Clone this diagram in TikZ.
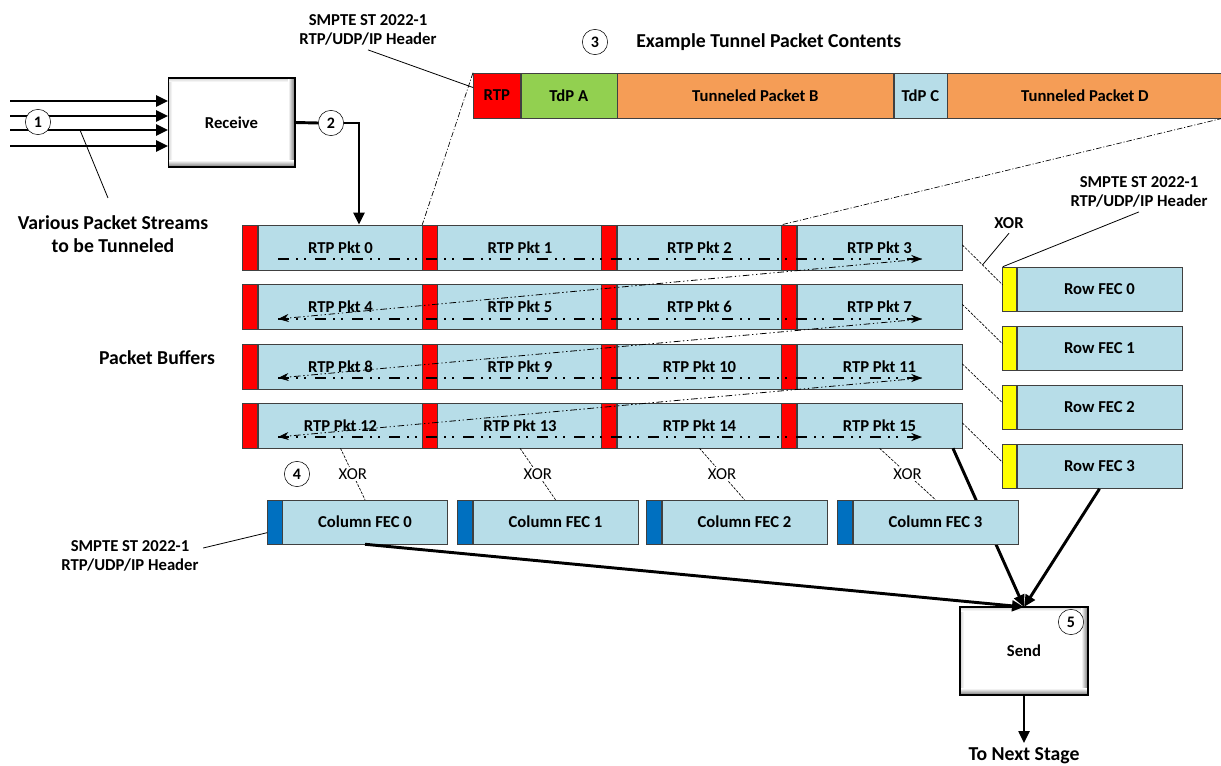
\documentclass[tikz,border=0pt]{standalone}
\usepackage{fontspec}
\setmainfont{Carlito}
\usetikzlibrary{arrows.meta}

\definecolor{pktblue}{HTML}{B7DDE8}
\definecolor{tdpgreen}{HTML}{92D050}
\definecolor{tunorange}{HTML}{F59D56}
\definecolor{fecyellow}{HTML}{FFFF00}
\definecolor{fecblue}{HTML}{0070C0}
\definecolor{rimgray}{HTML}{404040}

\newcommand{\lblfont}{\bfseries\fontsize{12.5}{14}\selectfont}
\newcommand{\bigfont}{\bfseries\fontsize{14.8}{17.5}\selectfont}
% soft bevel on the process boxes
\newcommand{\bevel}[1]{%
  \shade[left color=black!18, right color=white] (#1.north west) rectangle ([xshift=3pt]#1.south west);
  \shade[top color=black!18, bottom color=white] (#1.north west) rectangle ([yshift=-3pt]#1.north east);
  \shade[left color=white, right color=black!55] ([xshift=-5pt]#1.north east) rectangle (#1.south east);
  \shade[top color=white, bottom color=black!55] ([yshift=5pt]#1.south west) rectangle (#1.south east);
  \draw[line width=1pt] (#1.north west) rectangle (#1.south east);
}

\tikzset{
  body/.style={draw=rimgray, fill=pktblue, minimum width=123.75pt, minimum height=33.75pt, inner sep=0pt, font=\lblfont},
  hdr/.style={draw=rimgray, fill=#1, minimum width=11.25pt, minimum height=33.75pt, inner sep=0pt},
  pkt/.style={body, label={[hdr=red]left:{}}},
  rowfec/.style={body, minimum height=33pt, label={[hdr=fecyellow, minimum width=10.5pt, minimum height=33pt]left:{}}},
  colfec/.style={body, minimum height=33pt, label={[hdr=fecblue, minimum height=33pt]left:{}}},
  seg/.style={draw=rimgray, minimum height=33.75pt, inner sep=0pt, anchor=west, font=\lblfont},
  procbox/.style={draw, line width=1pt, fill=white, font=\lblfont, inner sep=0pt, outer sep=0pt},
  num/.style={circle, draw, fill=white, minimum size=19pt, inner sep=0pt, font=\bfseries\fontsize{12}{14}\selectfont},
  heavy/.style={line width=2.2pt, -{Triangle[length=9pt, width=8pt]}},
  flowline/.style={line width=1.4pt, dash pattern=on 8.25pt off 5.25pt on 1.5pt off 4.5pt on 1.5pt off 6.75pt, -{Stealth[length=8pt, width=6pt]}},
  flowback/.style={line width=0.6pt, dash pattern=on 5pt off 2pt on 1pt off 2pt on 1pt off 2pt, -{Stealth[length=8pt, width=6pt]}},
  zoomline/.style={line width=0.5pt, dash pattern=on 4pt off 1.5pt on 0.8pt off 1.5pt},
  xorline/.style={line width=0.5pt, dash pattern=on 2pt off 1pt},
  leader/.style={line width=0.6pt},
  xorlbl/.style={fill=white, inner sep=1pt, font=\fontsize{12.5}{14}\selectfont},
}

\begin{document}
\begin{tikzpicture}[x=0.75pt, y=-0.75pt]
\useasboundingbox (0,0) rectangle (1221,766);

% ---------- (1) incoming streams and receiver ----------
\node[procbox, minimum width=95pt, minimum height=66.75pt] (recv) at (231.5,122.5) {};
\bevel{recv}
\node[font=\lblfont] (recvtxt) at (recv) {Receive};
\coordinate (in1) at (10,101);
\coordinate (in2) at (10,116);
\coordinate (in3) at (10,130);
\coordinate (in4) at (10,146);
\draw[heavy] (in1) -- (in1 -| recv.west);
\draw[heavy] (in2) -- (in2 -| recv.west);
\draw[heavy] (in3) -- (in3 -| recv.west);
\draw[heavy] (in4) -- (in4 -| recv.west);
\node[num] (n1) at (38,122) {1};
\node[align=center, font=\bigfont] (streams) at (113,234) {Various Packet Streams\\to be Tunneled};
\coordinate (tap) at (80,130);
\coordinate (tapend) at (108,198);
\draw[leader] (tap) -- (tapend);

% ---------- packet buffers ----------
\node[font=\bigfont] (buffers) at (157,358) {Packet Buffers};
\node[pkt] (p0) at (340.5,247.5) {RTP Pkt 0};
\node[pkt] (p1) at (520,247.5) {RTP Pkt 1};
\node[pkt] (p2) at (699.5,247.5) {RTP Pkt 2};
\node[pkt] (p3) at (879.5,247.5) {RTP Pkt 3};
\node[pkt] (p4) at (340.5,307) {RTP Pkt 4};
\node[pkt] (p5) at (520,307) {RTP Pkt 5};
\node[pkt] (p6) at (699.5,307) {RTP Pkt 6};
\node[pkt] (p7) at (879.5,307) {RTP Pkt 7};
\node[pkt] (p8) at (340.5,366.5) {RTP Pkt 8};
\node[pkt] (p9) at (520,366.5) {RTP Pkt 9};
\node[pkt] (p10) at (699.5,366.5) {RTP Pkt 10};
\node[pkt] (p11) at (879.5,366.5) {RTP Pkt 11};
\node[pkt] (p12) at (340.5,425.5) {RTP Pkt 12};
\node[pkt] (p13) at (520,425.5) {RTP Pkt 13};
\node[pkt] (p14) at (699.5,425.5) {RTP Pkt 14};
\node[pkt] (p15) at (879.5,425.5) {RTP Pkt 15};

% fill order through the buffer
\coordinate (a0) at (278,259);  \coordinate (b0) at (922,259);
\coordinate (a1) at (278,319);  \coordinate (b1) at (922,319);
\coordinate (a2) at (278,378);  \coordinate (b2) at (922,378);
\coordinate (a3) at (278,437);  \coordinate (b3) at (922,437);
\draw[flowline] (a0) -- (b0);
\draw[flowback] (b0) -- (a1);
\draw[flowline] (a1) -- (b1);
\draw[flowback] (b1) -- (a2);
\draw[flowline] (a2) -- (b2);
\draw[flowback] (b2) -- (a3);
\draw[flowline] (a3) -- (b3);

% ---------- (2) receiver to buffers ----------
\node[num] (n2) at (331,123) {2};
\coordinate (drop) at (359,123);
\draw[line width=2.2pt] (recv.east) -- (n2.west);
\draw[heavy] (n2.east) -- (drop) -- (drop |- p0.north);

% ---------- (3) example tunnel packet ----------
\node[num] (n3) at (595,42) {3};
\node[font=\bigfont, anchor=west, inner sep=0pt] (title) at (636,42) {Example Tunnel Packet Contents};
\node[seg, fill=red, minimum width=35.25pt] (tRTP) at (473,95.5) {RTP};
\node[seg, fill=tdpgreen, minimum width=72pt] (tA) at (tRTP.east) {TdP A};
\node[seg, fill=tunorange, minimum width=207pt] (tB) at (tA.east) {Tunneled Packet B};
\node[seg, fill=pktblue, minimum width=39.75pt] (tC) at (tB.east) {TdP C};
\node[seg, fill=tunorange, minimum width=206.25pt] (tD) at (tC.east) {Tunneled Packet D};
\node[align=center, font=\lblfont] (hdrA) at (368,30) {SMPTE ST 2022-1\\RTP/UDP/IP Header};
\draw[leader] (hdrA.south) -- ([yshift=6pt]tRTP.west);
\draw[zoomline] (tRTP.north west) -- ([xshift=-11.25pt]p1.north west);
\draw[zoomline] (tD.south east) -- ([xshift=-11.25pt]p3.north west);

% ---------- row FEC ----------
\node[rowfec] (r0) at (1099.5,289) {Row FEC 0};
\node[rowfec] (r1) at (1099.5,348) {Row FEC 1};
\node[rowfec] (r2) at (1099.5,407) {Row FEC 2};
\node[rowfec] (r3) at (1099.5,466.5) {Row FEC 3};
\draw[xorline] ([yshift=2pt]p3.east) -- coordinate[midway] (xm) ([xshift=-10.5pt, yshift=3pt]r0.west);
\draw[xorline] ([yshift=2pt]p7.east) -- ([xshift=-10.5pt, yshift=3pt]r1.west);
\draw[xorline] ([yshift=2pt]p11.east) -- ([xshift=-10.5pt, yshift=3pt]r2.west);
\draw[xorline] ([yshift=2pt]p15.east) -- ([xshift=-10.5pt, yshift=3pt]r3.west);
\node[font=\lblfont] (xorR) at (1009,223) {XOR};
\draw[leader] (xorR.south) -- (xm);
\node[align=center, font=\lblfont] (hdrB) at (1139,192) {SMPTE ST 2022-1\\RTP/UDP/IP Header};
\draw[leader] (hdrB.south) -- ([xshift=-10.5pt]r0.north west);

% ---------- (5) sender ----------
\node[procbox, minimum width=96pt, minimum height=66pt] (send) at (1024,651) {};
\bevel{send}
\node[font=\lblfont] (sendtxt) at (send) {Send};
\node[num] (n5) at (1071,622) {5};
\draw[heavy] ([xshift=-7pt]p15.south east) -- (send.north);

% ---------- (4) column FEC ----------
\node[num] (n4) at (297,474) {4};
\node[colfec] (c0) at (365,522) {Column FEC 0};
\node[colfec] (c1) at (555.5,522) {Column FEC 1};
\node[colfec] (c2) at (744.5,522) {Column FEC 2};
\node[colfec] (c3) at (935.5,522) {Column FEC 3};
\draw[xorline] (p12.south) -- node[xorlbl] {XOR} (c0.north);
\draw[xorline] (p13.south) -- node[xorlbl] {XOR} (c1.north);
\draw[xorline] (p14.south) -- node[xorlbl] {XOR} (c2.north);
\draw[xorline] (p15.south) -- node[xorlbl] {XOR} (c3.north);
\node[align=center, font=\lblfont] (hdrC) at (130,556) {SMPTE ST 2022-1\\RTP/UDP/IP Header};
\draw[leader] ([yshift=6pt]hdrC.east) -- ([xshift=-11.25pt, yshift=-8pt]c0.west);

% ---------- into the sender ----------
\draw[heavy] (c0.south) -- (send.north);
\draw[heavy] (r3.south) -- (send.north);
\node[font=\bigfont] (stage) at (1024,756) {To Next Stage};
\draw[heavy] (send.south) -- (stage.north);

\end{tikzpicture}
\end{document}
